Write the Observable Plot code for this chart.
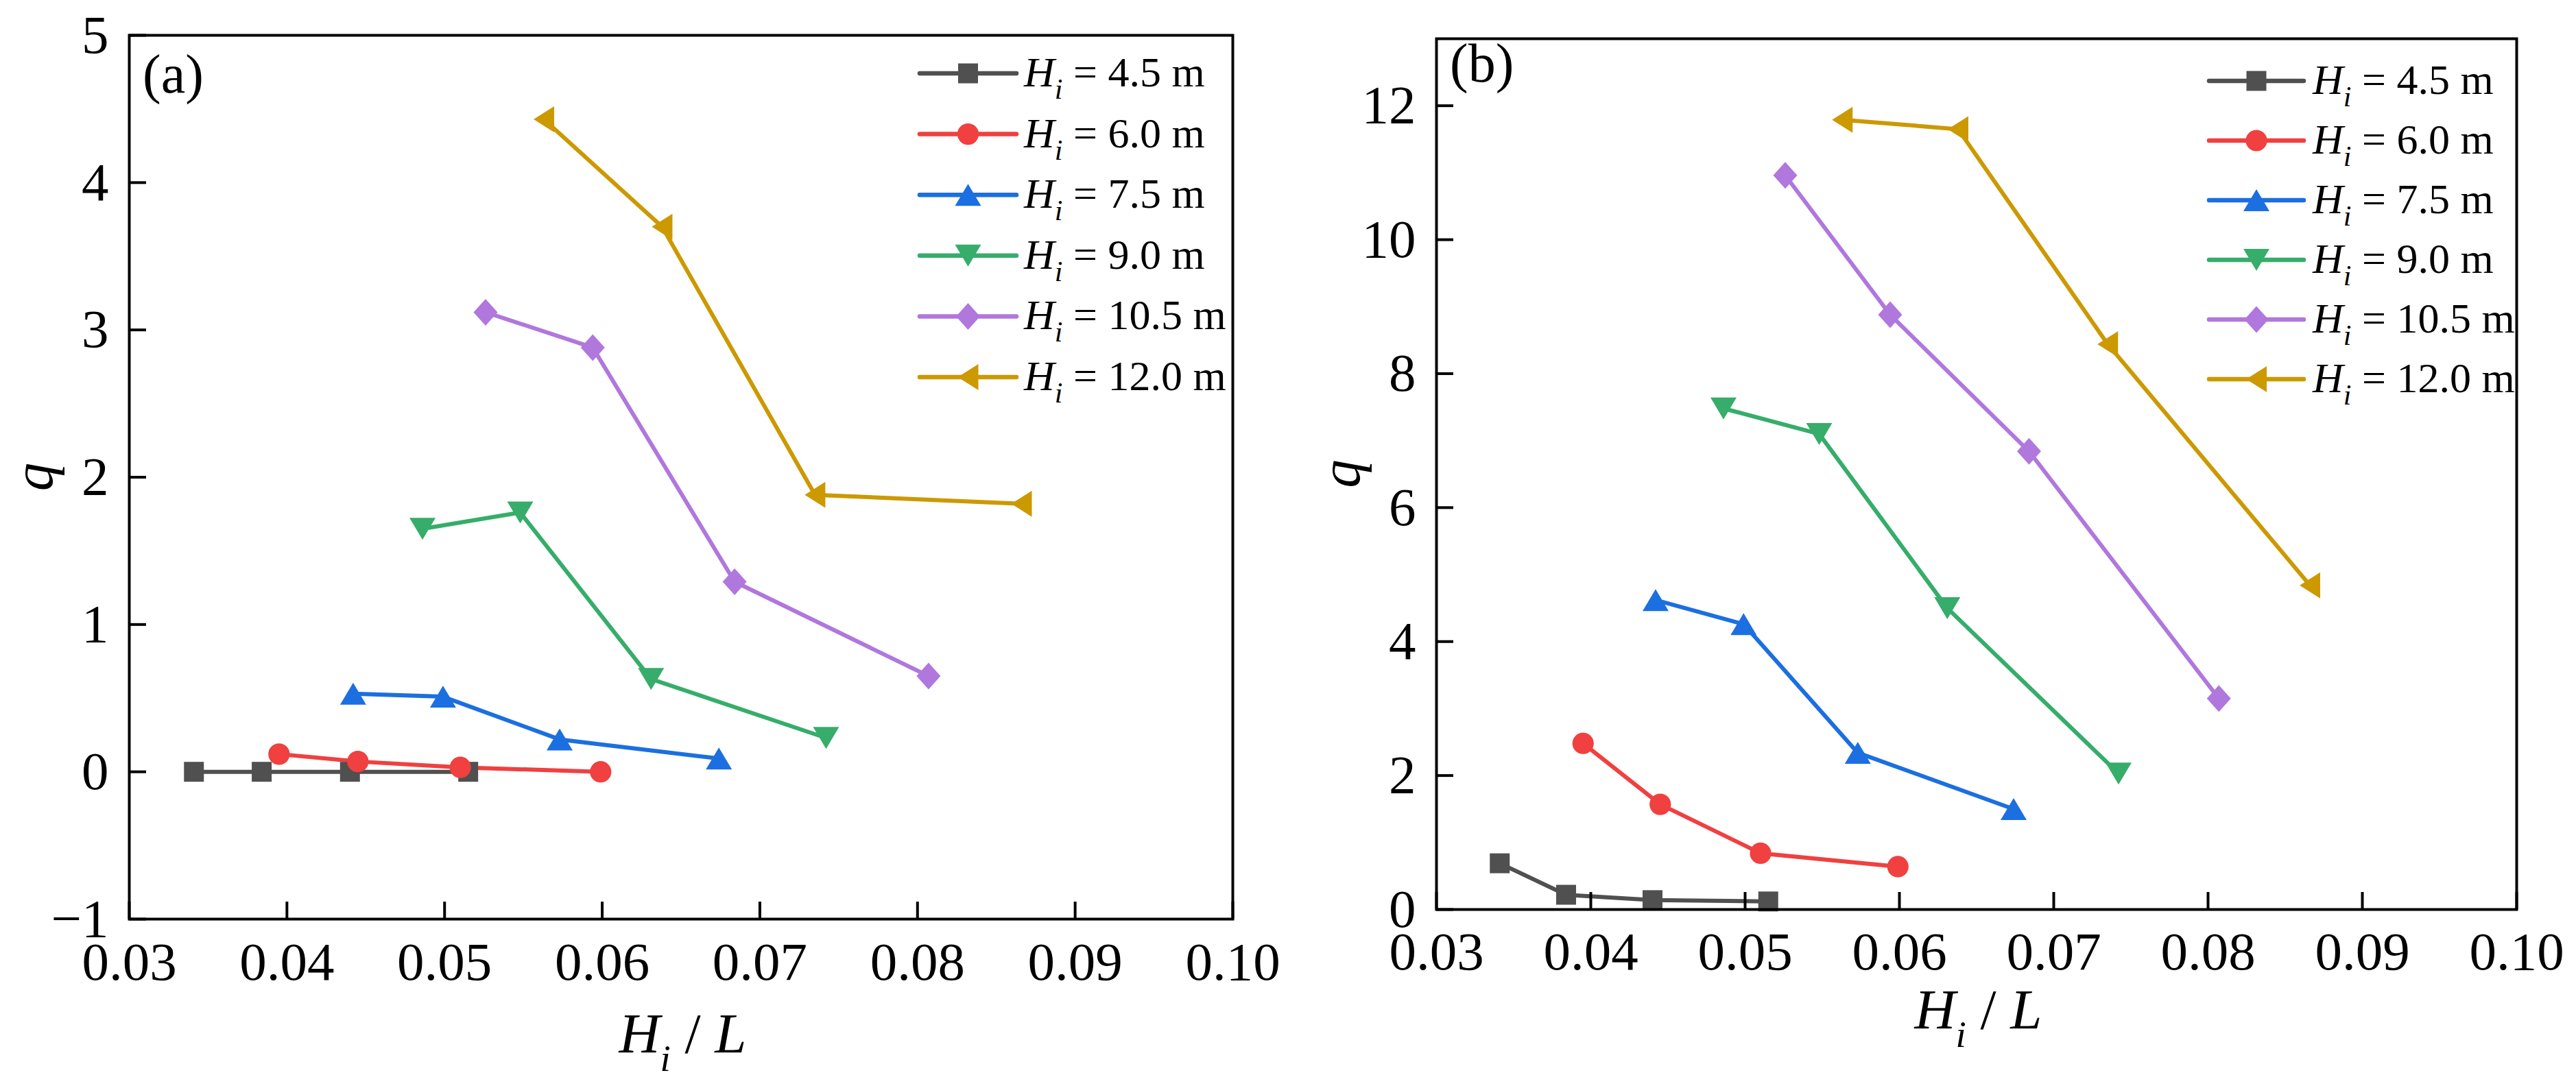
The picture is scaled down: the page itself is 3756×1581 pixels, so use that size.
<!DOCTYPE html>
<html>
<head>
<meta charset="utf-8">
<script src="https://cdn.jsdelivr.net/npm/d3@7"></script>
<script src="https://cdn.jsdelivr.net/npm/@observablehq/plot@0.6"></script>
<style>
  html, body { margin: 0; padding: 0; background: #fff; }
  #wrap { position: relative; width: 3756px; height: 1581px; overflow: hidden; background: #fff; }
  .panel { position: absolute; top: 0; }
  .panel svg text { font-family: "Liberation Serif", "Times New Roman", serif; }
</style>
</head>
<body>
<div id="wrap">
  <div class="panel" id="pa" style="left:0px"></div>
  <div class="panel" id="pb" style="left:1900px"></div>
</div>
<script>
// ---------------- data ----------------
const seriesLabels = ["4.5", "6.0", "7.5", "9.0", "10.5", "12.0"];
const seriesColors = ["#505050", "#F04040", "#1B6FE0", "#36AD6A", "#B077DD", "#CC9900"];

// H_i / L values of each series (same in both panels)
const hiL_45  = [0.0341, 0.0384, 0.0440, 0.0515];
const hiL_60  = [0.0395, 0.0445, 0.0510, 0.0599];
const hiL_75  = [0.0442, 0.0499, 0.0573, 0.0674];
const hiL_90  = [0.0486, 0.0548, 0.0631, 0.0742];
const hiL_105 = [0.0526, 0.0594, 0.0684, 0.0807];
const hiL_120 = [0.0563, 0.0638, 0.0735, 0.0866];

// panel (a) q
const qa_45  = [0.00, 0.00, 0.00, 0.00];
const qa_60  = [0.12, 0.07, 0.03, 0.00];
const qa_75  = [0.53, 0.51, 0.22, 0.09];
const qa_90  = [1.65, 1.76, 0.63, 0.23];
const qa_105 = [3.12, 2.88, 1.29, 0.65];
const qa_120 = [4.43, 3.70, 1.88, 1.82];

// panel (b) q
const qb_45  = [0.69, 0.22, 0.14, 0.12];
const qb_60  = [2.48, 1.57, 0.84, 0.64];
const qb_75  = [4.62, 4.26, 2.34, 1.50];
const qb_90  = [7.48, 7.10, 4.50, 2.03];
const qb_105 = [10.96, 8.88, 6.84, 3.15];
const qb_120 = [11.79, 11.65, 8.44, 4.84];

const xTicks = [0.03, 0.04, 0.05, 0.06, 0.07, 0.08, 0.09, 0.10];
const yTicksA = [-1, 0, 1, 2, 3, 4, 5];
const yTicksB = [0, 2, 4, 6, 8, 10, 12];

const hiLAll = [hiL_45, hiL_60, hiL_75, hiL_90, hiL_105, hiL_120];
const qaAll = [qa_45, qa_60, qa_75, qa_90, qa_105, qa_120];
const qbAll = [qb_45, qb_60, qb_75, qb_90, qb_105, qb_120];

function rowsFrom(qAll) {
  const rows = [];
  seriesLabels.forEach((s, i) => hiLAll[i].forEach((x, j) => rows.push({s, x, q: qAll[i][j]})));
  return rows;
}

// ---------------- symbols ----------------
function poly(pts) {
  return {draw(ctx, size) {
    const k = Math.sqrt(size / Math.PI) / 15;
    ctx.moveTo(pts[0][0] * k, pts[0][1] * k);
    for (let i = 1; i < pts.length; i++) ctx.lineTo(pts[i][0] * k, pts[i][1] * k);
    ctx.closePath();
  }};
}
const symCircle = {draw(ctx, size) { const r = Math.sqrt(size / Math.PI) * 1.04; ctx.moveTo(r, 0); ctx.arc(0, 0, r, 0, 2 * Math.PI); ctx.closePath(); }};
const symbols = [
  poly([[-14.5, -14.5], [14.5, -14.5], [14.5, 14.5], [-14.5, 14.5]]),
  symCircle,
  poly([[0, -16], [19, 16], [-19, 16]]),
  poly([[0, 16], [19, -16], [-19, -16]]),
  poly([[0, -19.5], [17.5, 0], [0, 19.5], [-17.5, 0]]),
  poly([[-15, 0], [15, -19], [15, 19]])
];

const FONT = "'Liberation Serif', 'Times New Roman', serif";

function makePanel(cfg) {
  const rows = rowsFrom(cfg.q);
  const plotW = cfg.width - cfg.ml - cfg.mr;
  const plotH = cfg.height - cfg.mt - cfg.mb;
  const marks = [
    Plot.line(rows, {x: "x", y: "q", z: "s", stroke: "s", strokeWidth: 6, strokeLinejoin: "round", strokeLinecap: "round"}),
    ...seriesLabels.map((s, i) => Plot.dot(rows.filter(d => d.s === s), {x: "x", y: "q", symbol: symbols[i], r: 15, fill: seriesColors[i], stroke: "none"})),
    Plot.tickX(xTicks, {x: d => d, stroke: "black", strokeWidth: 4, insetTop: plotH - 25}),
    Plot.tickY(cfg.yTicks, {y: d => d, stroke: "black", strokeWidth: 4, insetRight: plotW - 25}),
    Plot.axisX({ticks: xTicks, tickSize: 0, tickPadding: cfg.xPad, tickFormat: d3.format(".2f"), fontSize: 79, fontFamily: FONT, fontVariant: "normal", label: null, fill: "black"}),
    Plot.axisY({ticks: cfg.yTicks, tickSize: 0, tickPadding: 30, tickFormat: d => d < 0 ? "\u2212" + Math.abs(d) : String(d), fontSize: 79, fontFamily: FONT, fontVariant: "normal", label: null, fill: "black"}),
    Plot.frame({stroke: "black", strokeWidth: 4})
  ];
  const svg = Plot.plot({
    width: cfg.width, height: cfg.height,
    marginLeft: cfg.ml, marginRight: cfg.mr, marginTop: cfg.mt, marginBottom: cfg.mb,
    x: {domain: [0.03, 0.10], axis: null},
    y: {domain: cfg.yDomain, axis: null},
    color: {domain: seriesLabels, range: seriesColors},
    style: {fontFamily: FONT, background: "white", color: "black", overflow: "visible"},
    marks
  });

  const s = d3.select(svg);
  // panel tag
  s.append("text").attr("x", cfg.ml + 20).attr("y", cfg.tagY).attr("text-anchor", "start")
    .attr("font-family", FONT).attr("font-size", 80).attr("fill", "black").text(cfg.tag);

  // x title  H_i / L
  const xt = s.append("text").attr("x", cfg.ml + plotW / 2 + 3).attr("y", cfg.xTitleY)
    .attr("text-anchor", "middle").attr("font-family", FONT).attr("font-size", 83).attr("fill", "black");
  xt.append("tspan").attr("font-style", "italic").text("H");
  xt.append("tspan").attr("font-style", "italic").attr("font-size", 55).attr("dy", 27).text("i");
  xt.append("tspan").attr("dy", -27).text(" / ");
  xt.append("tspan").attr("font-style", "italic").text("L");

  // y title q
  s.append("text").attr("transform", `translate(${cfg.ml - 112},${cfg.mt + plotH / 2}) rotate(-90)`)
    .attr("text-anchor", "middle").attr("font-family", FONT).attr("font-size", 83)
    .attr("font-style", "italic").attr("fill", "black").text("q");

  // legend
  const lg = s.append("g");
  seriesLabels.forEach((lab, i) => {
    const cy = cfg.legY + i * cfg.legDy;
    lg.append("line").attr("x1", cfg.legX1).attr("x2", cfg.legX2).attr("y1", cy).attr("y2", cy)
      .attr("stroke", seriesColors[i]).attr("stroke-width", 6.5).attr("stroke-linecap", "round");
    lg.append("path").attr("transform", `translate(${(cfg.legX1 + cfg.legX2) / 2},${cy})`)
      .attr("d", d3.symbol(symbols[i], Math.PI * 225)()).attr("fill", seriesColors[i]);
    const t = lg.append("text").attr("x", cfg.legTx).attr("y", cy + 19).attr("text-anchor", "start")
      .attr("font-family", FONT).attr("font-size", 62).attr("fill", "black");
    t.append("tspan").attr("font-style", "italic").text("H");
    t.append("tspan").attr("font-style", "italic").attr("font-size", 42).attr("dy", 18).text("i");
    t.append("tspan").attr("dy", -18).text(" = " + lab + " m");
  });
  return svg;
}

document.getElementById("pa").appendChild(makePanel({
  q: qaAll, yDomain: [-1, 5], yTicks: yTicksA,
  width: 1900, height: 1581, ml: 188, mr: 1900 - 1797, mt: 51, mb: 1581 - 1340,
  xPad: 32, tag: "(a)", tagY: 135, xTitleY: 1535,
  legX1: 1341, legX2: 1482, legTx: 1493, legY: 107, legDy: 88.6
}));

document.getElementById("pb").appendChild(makePanel({
  q: qbAll, yDomain: [0, 13], yTicks: yTicksB,
  width: 1856, height: 1581, ml: 194, mr: 1856 - 1769, mt: 56, mb: 1581 - 1326,
  xPad: 31, tag: "(b)", tagY: 119, xTitleY: 1500,
  legX1: 3221 - 1900, legX2: 3359 - 1900, legTx: 3372 - 1900, legY: 118, legDy: 87
}));
</script>
</body>
</html>
